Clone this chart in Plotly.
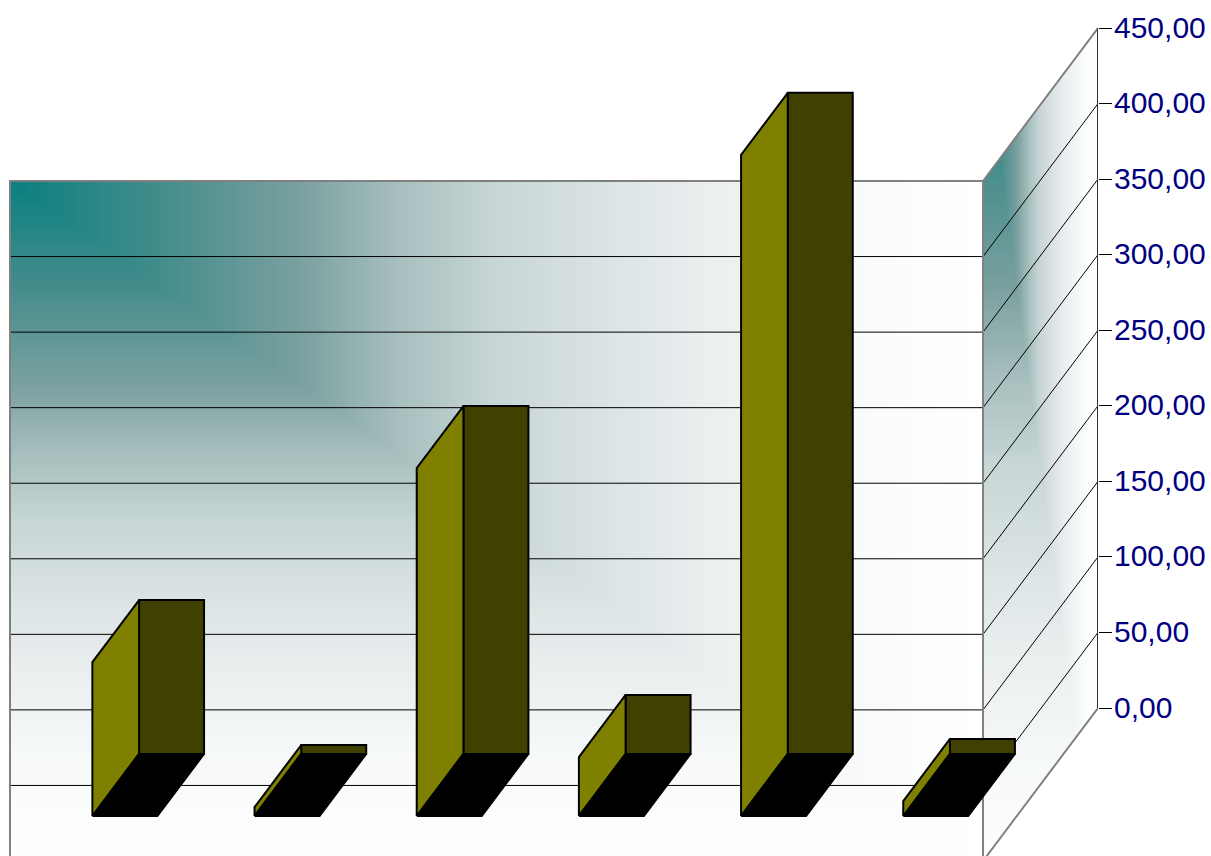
import numpy as np
import plotly.graph_objects as go

# --- chart data ---
categories = [0, 1, 2, 3, 4, 5]
values = [101.8, 5.9, 230.2, 39.0, 437.5, 9.9]
tick_values = [0, 50, 100, 150, 200, 250, 300, 350, 400, 450]
tick_labels = ["0,00", "50,00", "100,00", "150,00", "200,00", "250,00",
               "300,00", "350,00", "400,00", "450,00"]

# --- oblique projection settings (axis units) ---
DEPTH_X = 115 / 162.2      # category units of full depth
DEPTH_Y = 153 / (680 / 450)  # value units of full depth
BAR_WIDTH = 65 / 162.2
BAR_FRONT = 0.294
BAR_BACK = 0.70
V_MAX = tick_values[-1]


def px(cat, d):
    return cat + d * DEPTH_X


def py(v, d):
    return v - (1 - d) * DEPTH_Y


WALL_SHADE = [
    [0.00, "#0a8080"], [0.15, "#428c8b"], [0.30, "#7ba1a0"], [0.40, "#a7bfbe"],
    [0.50, "#c8d6d6"], [0.60, "#d9e2e2"], [0.70, "#e8edee"], [0.85, "#f8fafa"],
    [1.00, "#ffffff"],
]

fig = go.Figure()

# back wall gradient (x, y are cell edges, so it stops at the wall border)
nw = 160
wx = np.linspace(0, 6, nw + 1)
wy = np.linspace(py(-2, 0), py(V_MAX, 0), nw + 1)
centres = (np.arange(nw) + 0.5) / nw
u, v = np.meshgrid(centres, centres[::-1])
fig.add_trace(go.Heatmap(x=wx, y=wy, z=np.maximum(u, v), colorscale=WALL_SHADE,
                         zmin=0, zmax=1, showscale=False, zsmooth="best",
                         hoverinfo="skip"))

# side wall gradient (spans the wall's bounding box, masked to the parallelogram)
sx = np.linspace(px(6, 0), px(6, 1), 116)
sy = np.linspace(py(0, 0), V_MAX, 401)
X, Y = np.meshgrid((sx[:-1] + sx[1:]) / 2, (sy[:-1] + sy[1:]) / 2)
U = (X - 6) / DEPTH_X
V_BOX = (V_MAX - Y) / (V_MAX - py(0, 0))
V_WALL = (py(V_MAX, 0) + U * DEPTH_Y - Y) / V_MAX
Z = np.maximum(U, 0.95 * V_BOX)
Z[(V_WALL < 0) | (V_WALL > 1)] = np.nan
fig.add_trace(go.Heatmap(x=sx, y=sy, z=Z, colorscale=WALL_SHADE, zmin=0, zmax=1,
                         showscale=False, hoverinfo="skip"))

# gridlines
gx, gy = [], []
for t in tick_values[1:-1]:
    gx += [0, 6, px(6, 1), None]
    gy += [py(t, 0), py(t, 0), t, None]
fig.add_trace(go.Scatter(x=gx, y=gy, mode="lines", line=dict(color="#000000", width=1),
                         hoverinfo="skip", cliponaxis=False))

# wall borders
bx = [0, 0, 6, px(6, 1), None, 6, 6, px(6, 1)]
by = [py(0, 0), py(V_MAX, 0), py(V_MAX, 0), V_MAX, None, py(V_MAX, 0), py(0, 0), 0]
fig.add_trace(go.Scatter(x=bx, y=by, mode="lines", line=dict(color="#808080", width=2),
                         hoverinfo="skip", cliponaxis=False))

# value axis line
fig.add_trace(go.Scatter(x=[px(6, 1), px(6, 1)], y=[0, V_MAX], mode="lines",
                         line=dict(color="#303030", width=2), hoverinfo="skip", cliponaxis=False))

# bars
back_x, back_y, side_x, side_y, floor_x, floor_y = [], [], [], [], [], []
for c, val in zip(categories, values):
    l = c + 0.5 - BAR_WIDTH / 2
    r = c + 0.5 + BAR_WIDTH / 2
    back_x += [px(l, BAR_BACK), px(r, BAR_BACK), px(r, BAR_BACK), px(l, BAR_BACK), px(l, BAR_BACK), None]
    back_y += [py(0, BAR_BACK), py(0, BAR_BACK), py(val, BAR_BACK), py(val, BAR_BACK), py(0, BAR_BACK), None]
    side_x += [px(l, BAR_FRONT), px(l, BAR_FRONT), px(l, BAR_BACK), px(l, BAR_BACK), px(l, BAR_FRONT), None]
    side_y += [py(0, BAR_FRONT), py(val, BAR_FRONT), py(val, BAR_BACK), py(0, BAR_BACK), py(0, BAR_FRONT), None]
    floor_x += [px(l, BAR_FRONT), px(r, BAR_FRONT), px(r, BAR_BACK), px(l, BAR_BACK), px(l, BAR_FRONT), None]
    floor_y += [py(0, BAR_FRONT), py(0, BAR_FRONT), py(0, BAR_BACK), py(0, BAR_BACK), py(0, BAR_FRONT), None]

for fx, fy, col in [(back_x, back_y, "#404000"), (side_x, side_y, "#808000"), (floor_x, floor_y, "#000000")]:
    fig.add_trace(go.Scatter(x=fx, y=fy, mode="lines", fill="toself", fillcolor=col,
                             line=dict(color="#000000", width=2), hoverinfo="skip"))

W, H = 1211, 856
k = 680 / 450
fig.update_layout(
    width=W, height=H, margin=dict(l=0, r=0, t=0, b=0),
    paper_bgcolor="white", plot_bgcolor="white", showlegend=False,
    xaxis=dict(visible=False, domain=[0, 1098 / W], range=[-10 / 162.2, 6 + DEPTH_X]),
    yaxis=dict(side="right", range=[(708 - 856) / k, 708 / k], tickmode="array",
               tickvals=tick_values, ticktext=tick_labels, ticks="outside", ticklen=13,
               tickwidth=1, tickcolor="#000000", showgrid=False, zeroline=False, showline=False,
               ticklabelstandoff=-4, ticklabelshift=-1,
               tickfont=dict(family="Liberation Sans, Arial, sans-serif", size=30, color="#000080")),
)
fig.write_html("out.html", config={"displayModeBar": False},
               post_script="document.body.style.margin='0';")
